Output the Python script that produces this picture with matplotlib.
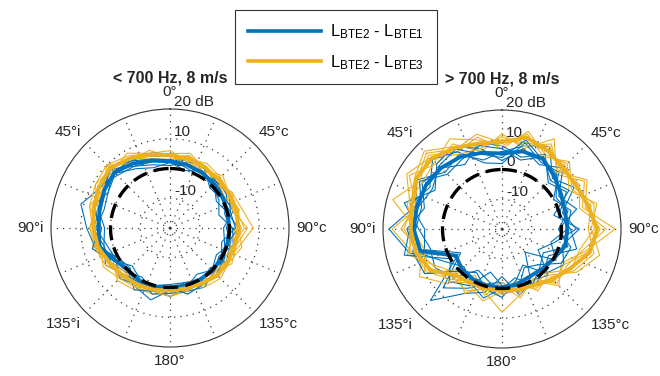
import numpy as np
import matplotlib
matplotlib.use("Agg")
import matplotlib.pyplot as plt
from matplotlib.lines import Line2D

plt.rcParams['font.family'] = ['Liberation Sans', 'DejaVu Sans']
plt.rcParams['mathtext.fontset'] = 'custom'
plt.rcParams['mathtext.rm'] = 'Liberation Sans'
plt.rcParams['mathtext.it'] = 'Liberation Sans:italic'
plt.rcParams['mathtext.bf'] = 'Liberation Sans:bold'

# Azimuth of each measurement (degrees, clockwise from front)
azimuth_deg = np.arange(0, 360, 15)

theta_labels = ['0°', '45°c', '90°c', '135°c', '180°', '135°i', '90°i', '45°i']
theta_label_deg = [0, 45, 90, 135, 180, 225, 270, 315]
r_ticks = [-10, 0, 10, 20]
r_tick_labels = ['-10', '0', '10', '20 dB']

titles = ['< 700 Hz, 8 m/s', '> 700 Hz, 8 m/s']
legend_labels = [r'L$_{\mathrm{BTE2}}$ - L$_{\mathrm{BTE1}}$',
                 r'L$_{\mathrm{BTE2}}$ - L$_{\mathrm{BTE3}}$']

# ---- < 700 Hz: level differences (dB) ----
low_bte1_single = [
    [4, 5, 2, 0, -1, -3, 1, 2, -1, 1, 3, 2, 1, 5, 3, -1, 0, 6, 8, 11, 7, 6, 7, 5],
    [1, 3, 4, 2, 1, 2, -2, -1, 1, 0, -2, 1, 3, 2, -1, 1, 3, 3, 2, 5, 6, 8, 4, 2],
    [3, 1, 0, 3, 2, -1, 0, 1, 2, -1, 1, -1, -1, 0, 2, 4, 1, 2, 5, 3, 4, 7, 6, 4],
    [2, 4, 3, -1, 0, 1, 2, -2, 0, 3, 1, 2, 2, 3, 0, -2, 2, 7, 4, 6, 8, 5, 4, 3],
    [5, 2, 1, 2, 3, 1, -1, 1, -2, 0, 0, -1, 1, 1, 1, 2, 5, 3, 6, 4, 5, 9, 6, 6],
    [2, 0, 2, 1, -2, 0, 3, 0, 1, 2, 2, 3, 0, 2, 4, 0, 0, 5, 3, 7, 4, 6, 3, 1],
]
low_bte1_median = [2.5, 2, 1.5, 1, 0.5, 0, 0, 0, 0, 0.3, 0, 0,
                   0, 0.5, 0.5, 0, 1.5, 4.5, 4, 4.5, 5.5, 6.4, 5, 3.5]

low_bte3_single = [
    [5, 6, 3, 2, 4, 5, 8, 4, 2, 3, 0, 2, 3, 1, 4, 5, 2, 6, 7, 5, 9, 10, 8, 6],
    [3, 4, 5, 4, 2, 2, 4, 3, 4, 1, 2, 3, 0, 2, 1, 4, 6, 4, 6, 8, 6, 9, 7, 4],
    [6, 3, 2, 5, 3, 4, 2, 1, 3, 4, 3, 0, 2, 3, 3, 1, 3, 7, 5, 7, 8, 7, 9, 6],
    [4, 5, 4, 1, 4, 3, 5, 2, 1, 2, 1, 2, 1, 0, 2, 3, 4, 4, 6, 6, 7, 9, 6, 7],
    [5, 2, 4, 3, 1, 4, 3, 5, 3, 3, 2, 1, 3, 2, 0, 2, 5, 6, 4, 8, 9, 8, 7, 5],
    [3, 5, 2, 4, 3, 2, 6, 3, 2, 1, 0, 2, 0, 1, 3, 4, 3, 5, 7, 6, 6, 10, 5, 4],
]
low_bte3_median = [4.5, 4, 3.5, 3, 3, 3, 3, 2.5, 2.5, 2.4, 1.5, 1,
                   1, 1.5, 2, 2.5, 3.5, 5, 5.8, 6.5, 7.5, 8.5, 7, 5.5]

# ---- > 700 Hz: level differences (dB) ----
high_bte1_single = [
    [6, 9, 12, 4, 8, 1, 5, -2, -6, 2, 0, 3, -4, 2, 5, 14, -3, 12, 18, 10, 13, 7, 9, 4],
    [3, 8, 5, 9, 2, 6, -1, 4, 3, -3, -5, 1, 2, -2, -4, 3, 6, 5, 8, 14, 6, 11, 12, 8],
    [8, 5, 9, 2, 5, 0, 3, 6, -2, 0, 2, -3, 0, 4, 1, -2, 2, 10, 12, 7, 11, 9, 5, 10],
    [2, 10, 6, 7, 0, 4, 2, -3, 1, -9, -1, 2, -2, -1, 3, 8, -4, 7, 6, 12, 8, 13, 10, 3],
    [7, 4, 8, 3, 6, -2, 6, 1, 4, 1, -6, -2, 3, 1, -3, 0, 10, 11, 9, 8, 12, 6, 7, 9],
    [4, 11, 7, 6, 1, 3, -1, 3, -4, -2, 1, 0, -1, -5, 2, 5, 0, 14, 11, 9, 7, 10, 11, 6],
]
high_bte1_median = [5.4, 7, 7.3, 5, 3, 2, 2, 2, 0, -1, -1.5, -0.8,
                    -0.3, -0.3, -0.5, -1, -2, 8.4, 9.7, 9.6, 9.5, 9, 8, 6.5]

high_bte3_single = [
    [12, 8, 15, 6, 12, 8, 18, 9, 3, 7, 0, 4, -1, 3, -2, 6, 12, 8, 14, 10, 16, 11, 13, 7],
    [7, 14, 9, 11, 6, 13, 10, 14, 9, 2, 4, -2, 3, 0, 5, 1, 5, 13, 9, 18, 12, 15, 10, 12],
    [10, 10, 12, 8, 10, 7, 15, 8, 5, 6, -1, 3, 8, 2, 0, 4, 9, 11, 17, 9, 14, 17, 12, 9],
    [8, 13, 8, 12, 7, 11, 9, 12, 8, 3, 3, 0, 1, 5, 2, -1, 10, 7, 10, 13, 11, 12, 15, 11],
    [11, 9, 13, 7, 13, 9, 13, 10, 4, 5, 1, 2, -2, 1, 4, 3, 7, 12, 11, 12, 17, 14, 9, 8],
    [9, 12, 10, 10, 8, 12, 11, 7, 7, 1, 2, 1, 2, -1, 1, 5, 6, 9, 13, 11, 13, 16, 11, 13],
]
high_bte3_median = [9.3, 11.8, 10.6, 9, 9, 10, 12, 10.5, 6.5, 4, 1.8, 1,
                    0.7, 0.8, 1, 2, 7.8, 10, 10.7, 11.2, 13.5, 13.5, 11.5, 9.8]

BLUE = '#0072BD'
YELLOW = '#EDB120'
R_MIN, R_MAX = -20, 20

fig = plt.figure(figsize=(6.6, 3.76), dpi=100)

# axes boxes in pixels: (left, top, size)
boxes = [(51, 109, 238), (383, 110, 238)]
W, H = 660, 376


def closed(values):
    v = np.asarray(values, dtype=float)
    return np.append(v, v[0])


theta = np.deg2rad(closed(azimuth_deg))
theta[-1] = theta[0] + 2 * np.pi

panels = [
    (low_bte1_single, low_bte1_median, low_bte3_single, low_bte3_median),
    (high_bte1_single, high_bte1_median, high_bte3_single, high_bte3_median),
]

for (left, top, size), title, (b_single, b_med, y_single, y_med) in zip(boxes, titles, panels):
    ax = fig.add_axes([left / W, 1 - (top + size) / H, size / W, size / H], projection='polar')
    ax.set_theta_zero_location('N')
    ax.set_theta_direction(-1)
    ax.set_ylim(R_MIN, R_MAX)
    ax.set_thetagrids(np.arange(0, 360, 22.5), labels=[''] * 16)
    ax.set_rgrids([-10, 0, 10], labels=[''] * 3)
    ax.tick_params(length=0)
    ax.grid(True, linestyle=(0, (1, 4)), color='#3a3a3a', linewidth=0.9)
    ax.spines['polar'].set_color('#333333')
    ax.spines['polar'].set_linewidth(0.8)
    if 'inner' in ax.spines:
        ax.spines['inner'].set_visible(False)

    # radial labels along the 0° axis
    for rv, rl in zip(r_ticks, r_tick_labels):
        ax.annotate(rl, xy=(0, rv), xytext=(3, 0), textcoords='offset points',
                    ha='left', va='bottom', fontsize=11, color='#262626',
                    annotation_clip=False, zorder=1)

    # angular labels outside the rim
    for td, tl in zip(theta_label_deg, theta_labels):
        t = np.deg2rad(td)
        s, c = np.sin(t), np.cos(t)
        ha = 'left' if s > 0.1 else ('right' if s < -0.1 else 'center')
        va = 'bottom' if c > 0.1 else ('top' if c < -0.1 else 'center')
        pad = 5
        ax.annotate(tl, xy=(t, R_MAX), xytext=(pad * s, pad * c + (2 if td == 0 else 0)),
                    textcoords='offset points',
                    ha=ha, va=va, fontsize=11, color='#262626', annotation_clip=False)

    for bs, ys in zip(b_single, y_single):
        ax.plot(theta, closed(bs), color=BLUE, lw=0.8, zorder=2)
        ax.plot(theta, closed(ys), color=YELLOW, lw=0.8, zorder=2)
    ax.plot(theta, closed(b_med), color=BLUE, lw=2.8, zorder=3)
    ax.plot(theta, closed(y_med), color=YELLOW, lw=2.8, zorder=3)

    ring = np.linspace(0, 2 * np.pi, 361)
    ax.plot(ring, np.zeros_like(ring), color='black', lw=2.4,
            linestyle=(0, (4.5, 2.2)), zorder=4)

    ax.set_title(title, fontsize=11.5, fontweight='bold', pad=19, color='#262626')

handles = [Line2D([], [], color=BLUE, lw=2.6), Line2D([], [], color=YELLOW, lw=2.6)]
leg = fig.legend(handles, legend_labels, loc='upper center',
                 bbox_to_anchor=(336 / W, 1 - 10 / H), borderaxespad=0, fontsize=12,
                 handlelength=4.4, handletextpad=0.55, labelspacing=0.7,
                 borderpad=0.75, fancybox=False, framealpha=1)
leg.get_frame().set_edgecolor('#333333')
leg.get_frame().set_linewidth(0.8)

fig.savefig('out.png', dpi=100)
